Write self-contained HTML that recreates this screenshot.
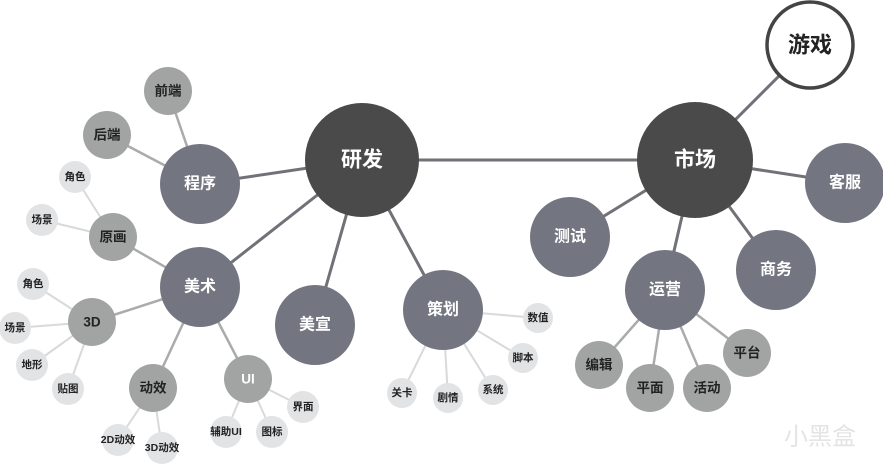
<html><head><style>body{margin:0;background:#fff}</style></head><body>
<svg width="883" height="466" xmlns="http://www.w3.org/2000/svg" font-family="Liberation Sans, Noto Sans CJK SC, sans-serif" font-weight="bold" text-anchor="middle" dominant-baseline="central">
<g stroke-linecap="round">
<g stroke="#707278" stroke-width="3">
<line x1="362" y1="160" x2="695" y2="160"/><line x1="695" y1="160" x2="810" y2="45"/>
<line x1="362" y1="160" x2="200" y2="184"/><line x1="362" y1="160" x2="200" y2="287"/>
<line x1="362" y1="160" x2="315" y2="325"/><line x1="362" y1="160" x2="443" y2="310"/>
<line x1="695" y1="160" x2="845" y2="183"/><line x1="695" y1="160" x2="776" y2="270"/>
<line x1="695" y1="160" x2="665" y2="290"/><line x1="695" y1="160" x2="570" y2="237"/>
</g>
<g stroke="#a9abad" stroke-width="2.5">
<line x1="200" y1="184" x2="168" y2="91"/><line x1="200" y1="184" x2="107" y2="135"/>
<line x1="200" y1="287" x2="113" y2="237"/><line x1="200" y1="287" x2="92" y2="322"/>
<line x1="200" y1="287" x2="153" y2="388"/><line x1="200" y1="287" x2="248" y2="379"/>
<line x1="665" y1="290" x2="599" y2="365"/><line x1="665" y1="290" x2="650" y2="388"/>
<line x1="665" y1="290" x2="707" y2="388"/><line x1="665" y1="290" x2="747" y2="353"/>
</g>
<g stroke="#d8d9db" stroke-width="2">
<line x1="113" y1="237" x2="75" y2="177"/><line x1="113" y1="237" x2="42" y2="220"/>
<line x1="92" y1="322" x2="33" y2="284"/><line x1="92" y1="322" x2="15" y2="328"/>
<line x1="92" y1="322" x2="32" y2="365"/><line x1="92" y1="322" x2="68" y2="389"/>
<line x1="153" y1="388" x2="118" y2="440"/><line x1="153" y1="388" x2="162" y2="448"/>
<line x1="248" y1="379" x2="226" y2="432"/><line x1="248" y1="379" x2="272" y2="432"/><line x1="248" y1="379" x2="303" y2="407"/>
<line x1="443" y1="310" x2="538" y2="318"/><line x1="443" y1="310" x2="523" y2="358"/>
<line x1="443" y1="310" x2="493" y2="390"/><line x1="443" y1="310" x2="448" y2="398"/><line x1="443" y1="310" x2="402" y2="393"/>
</g>
</g>
<circle cx="362" cy="160" r="57" fill="#4a4a4a"/><text x="362" y="160" fill="#fff" font-size="21">研发</text>
<circle cx="695" cy="160" r="58" fill="#4a4a4a"/><text x="695" y="160" fill="#fff" font-size="21">市场</text>
<circle cx="810" cy="45" r="43" fill="#fff" stroke="#444" stroke-width="3.5"/><text x="810" y="45" fill="#222" font-size="22">游戏</text>
<g fill="#737680">
<circle cx="845" cy="183" r="40"/><circle cx="776" cy="270" r="40"/><circle cx="665" cy="290" r="40"/><circle cx="570" cy="237" r="40"/>
<circle cx="443" cy="310" r="40"/><circle cx="315" cy="325" r="40"/><circle cx="200" cy="184" r="40"/><circle cx="200" cy="287" r="40"/>
</g>
<g fill="#fff" font-size="16">
<text x="845" y="183">客服</text><text x="776" y="270">商务</text><text x="665" y="290">运营</text><text x="570" y="237">测试</text>
<text x="443" y="310">策划</text><text x="315" y="325">美宣</text><text x="200" y="184">程序</text><text x="200" y="287">美术</text>
</g>
<g fill="#a2a4a3">
<circle cx="168" cy="91" r="24"/><circle cx="107" cy="135" r="24"/><circle cx="113" cy="237" r="24"/><circle cx="92" cy="322" r="24"/>
<circle cx="153" cy="388" r="24"/><circle cx="248" cy="379" r="24"/>
<circle cx="599" cy="365" r="24"/><circle cx="650" cy="388" r="24"/><circle cx="707" cy="388" r="24"/><circle cx="747" cy="353" r="24"/>
</g>
<g fill="#222" font-size="13.5">
<text x="168" y="91">前端</text><text x="107" y="135">后端</text><text x="113" y="237">原画</text><text x="92" y="322">3D</text>
<text x="153" y="388">动效</text><text x="248" y="379" fill="#fff">UI</text>
<text x="599" y="365">编辑</text><text x="650" y="388">平面</text><text x="707" y="388">活动</text><text x="747" y="353">平台</text>
</g>
<g fill="#e2e3e5">
<circle cx="75" cy="177" r="16"/><circle cx="42" cy="220" r="16"/><circle cx="33" cy="284" r="16"/><circle cx="15" cy="328" r="16"/>
<circle cx="32" cy="365" r="16"/><circle cx="68" cy="389" r="16"/><circle cx="118" cy="440" r="16"/><circle cx="162" cy="448" r="16"/>
<circle cx="226" cy="432" r="16"/><circle cx="272" cy="432" r="16"/><circle cx="303" cy="407" r="16"/>
<circle cx="538" cy="318" r="15"/><circle cx="523" cy="358" r="15"/><circle cx="493" cy="390" r="15"/><circle cx="448" cy="398" r="15"/><circle cx="402" cy="393" r="15"/>
</g>
<g fill="#222" font-size="10.5">
<text x="75" y="177">角色</text><text x="42" y="220">场景</text><text x="33" y="284">角色</text><text x="15" y="328">场景</text>
<text x="32" y="365">地形</text><text x="68" y="389">贴图</text><text x="118" y="440">2D动效</text><text x="162" y="448">3D动效</text>
<text x="226" y="432">辅助UI</text><text x="272" y="432">图标</text><text x="303" y="407">界面</text>
<text x="538" y="318">数值</text><text x="523" y="358">脚本</text><text x="493" y="390">系统</text><text x="448" y="398">剧情</text><text x="402" y="393">关卡</text>
</g>
<text x="820" y="437" fill="#e4e4e4" font-size="24" font-weight="normal">小黑盒</text>
</svg>
</body></html>
